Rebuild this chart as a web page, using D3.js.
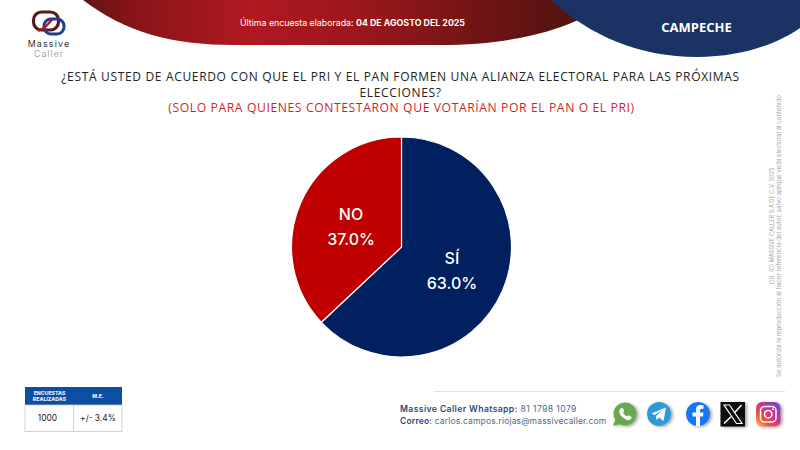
<!DOCTYPE html>
<html><head><meta charset="utf-8">
<script src="https://cdn.jsdelivr.net/npm/d3@7"></script>
<style>html,body{margin:0;padding:0;background:#fff;overflow:hidden}svg{display:block}text{font-family:Inter,"Open Sans",sans-serif}</style>
</head><body><svg id="c" width="800" height="450"></svg>
<script>
const categories=["SÍ","NO"];
const values=[63.0,37.0];
const sliceColors=["#00205f","#c00000"];
const questionLines=["¿ESTÁ USTED DE ACUERDO CON QUE EL PRI Y EL PAN FORMEN UNA ALIANZA ELECTORAL PARA LAS PRÓXIMAS","ELECCIONES?"];
const subtitle="(SOLO PARA QUIENES CONTESTARON QUE VOTARÍAN POR EL PAN O EL PRI)";
const tableHead=[["ENCUESTAS","REALIZADAS"],["M.E."]];
const tableBody=["1000","+/- 3.4%"];

const svg=d3.select("#c");
const defs=svg.append("defs");
const g=defs.append("linearGradient").attr("id","red");
[[0,"#641213"],[.12,"#8c1519"],[.33,"#b01820"],[.55,"#9c171c"],[.8,"#701514"],[1,"#4f1411"]].forEach(s=>g.append("stop").attr("offset",s[0]).attr("stop-color",s[1]));
const f=defs.append("filter").attr("id","sh").attr("x","-30%").attr("y","-30%").attr("width","170%").attr("height","170%");
f.append("feDropShadow").attr("dx",2).attr("dy",1).attr("stdDeviation",1.5).attr("flood-color","#000").attr("flood-opacity",.35);
const ig=defs.append("linearGradient").attr("id","ig").attr("x1",0).attr("y1",1).attr("x2",1).attr("y2",0);
[[0,"#fdc04a"],[.3,"#f0503a"],[.6,"#c92f9c"],[1,"#5a4fd0"]].forEach(s=>ig.append("stop").attr("offset",s[0]).attr("stop-color",s[1]));

// header
svg.append("path").attr("d","M83,0 C125,32 170,45 235,45 L440,45 C500,45 545,35 578,20 L560,0 Z").attr("fill","url(#red)");
svg.append("path").attr("d","M551,0 C590,36 640,57 697,57 C745,57 780,42 800,28 L800,0 Z").attr("fill","#1b3264");
svg.append("text").attr("x",352.5).attr("y",25.5).attr("text-anchor","middle").attr("fill","#fff").attr("font-size",8.8)
 .html('Última encuesta elaborada: <tspan font-weight="700">04 DE AGOSTO DEL 2025</tspan>');
svg.append("text").attr("x",696.5).attr("y",32).attr("text-anchor","middle").attr("fill","#fff").attr("font-size",13).attr("font-weight",700).style("font-family","'Open Sans'").text("CAMPECHE");

// logo
const logo=svg.append("g");
logo.append("rect").attr("x",33.5).attr("y",12).attr("width",25).attr("height",18).attr("rx",8).attr("fill","none").attr("stroke","#5a1a1a").attr("stroke-width",3.2);
logo.append("rect").attr("x",44).attr("y",19).attr("width",20).attr("height",15).attr("rx",7).attr("fill","none").attr("stroke","#1b3f8a").attr("stroke-width",3);
logo.append("path").attr("d","M38,31 L44,28 L52,20").attr("fill","none").attr("stroke","#b01820").attr("stroke-width",2.4);
svg.append("text").attr("x",49).attr("y",47).attr("text-anchor","middle").attr("font-size",8.8).attr("fill","#333").attr("letter-spacing",1.2).text("Massive");
svg.append("text").attr("x",49).attr("y",57).attr("text-anchor","middle").attr("font-size",8.8).attr("fill","#8a8a8a").attr("letter-spacing",1.1).attr("font-weight",300).text("Caller");

// question
questionLines.forEach((t,i)=>svg.append("text").attr("x",400.5).attr("y",81+i*15.6).attr("text-anchor","middle").attr("font-size",12).attr("fill","#222").style("font-family","'Open Sans'").attr("letter-spacing",.67).text(t));
svg.append("text").attr("x",401.5).attr("y",112).attr("text-anchor","middle").attr("font-size",12.2).attr("fill","#d01f26").style("font-family","'Open Sans'").attr("letter-spacing",.58).text(subtitle);

// pie
const cx=401.5,cy=247,R=110;
const pie=d3.pie().sort(null).value(d=>d)(values);
const arc=d3.arc().innerRadius(0).outerRadius(R);
const pg=svg.append("g").attr("transform",`translate(${cx},${cy})`);
pg.selectAll("path").data(pie).join("path").attr("d",arc).attr("fill",(d,i)=>sliceColors[i]).attr("stroke","#fff").attr("stroke-width",1.2);
const lab=d3.arc().innerRadius(R*.5).outerRadius(R*.5);
pie.forEach((d,i)=>{const [x,y]=lab.centroid(d);
 const t=pg.append("text").attr("text-anchor","middle").attr("fill","#fff").attr("font-size",16).attr("font-weight",500);
 t.append("tspan").attr("x",x).attr("y",y-5).text(categories[i]);
 t.append("tspan").attr("x",x).attr("y",y+20).text(d3.format(".1f")(d.data)+"%");
});

// side notes
const side=(x,y,s,t,fill)=>svg.append("text").attr("transform",`translate(${x},${y}) rotate(-90)`).attr("text-anchor","middle").attr("font-size",s).attr("fill",fill).text(t);
side(773.5,226,5.6,"D.R. (C) MASSIVE CALLER S.A DE C.V. 2025","#a6a6a6");
side(780.5,236,6.1,"Se autoriza la reproducción al hacer referencia del autor, salvo aplique veda electoral al contenido","#a6a6a6");

// table
svg.append("rect").attr("x",25).attr("y",387).attr("width",97).attr("height",18).attr("fill","#0b4ea2");
svg.append("rect").attr("x",25).attr("y",405).attr("width",97).attr("height",26.5).attr("fill","#fff").attr("stroke","#c8c8c8").attr("stroke-width",.8);
svg.append("line").attr("x1",73.5).attr("x2",73.5).attr("y1",405).attr("y2",431.5).attr("stroke","#c8c8c8").attr("stroke-width",.8);
tableHead[0].forEach((t,i)=>svg.append("text").attr("x",49.5).attr("y",394.5+i*6.5).attr("text-anchor","middle").attr("font-size",5.2).attr("font-weight",800).attr("fill","#e8eef8").text(t));
svg.append("text").attr("x",98).attr("y",398).attr("text-anchor","middle").attr("font-size",5.2).attr("font-weight",800).attr("fill","#e8eef8").text(tableHead[1][0]);
svg.append("text").attr("x",47.5).attr("y",421).attr("text-anchor","middle").attr("font-size",8.4).attr("fill","#222").text(tableBody[0]);
svg.append("text").attr("x",98).attr("y",421).attr("text-anchor","middle").attr("font-size",8.4).attr("fill","#222").text(tableBody[1]);

// footer
svg.append("line").attr("x1",434).attr("x2",785).attr("y1",391.5).attr("y2",391.5).attr("stroke","#e2e2e2");
const l1=svg.append("text").attr("x",400).attr("y",412).attr("font-size",8.6).attr("fill","#1f4a7d").attr("letter-spacing",.4);
l1.html('<tspan font-weight="600">Massive Caller Whatsapp:</tspan> <tspan fill="#4a6a90">81 1798 1079</tspan>');
const l2=svg.append("text").attr("x",400).attr("y",424).attr("font-size",8.5).attr("fill","#1f4a7d").attr("letter-spacing",.16);
l2.html('<tspan font-weight="600">Correo:</tspan> <tspan fill="#4a6a90">carlos.campos.riojas@massivecaller.com</tspan>');

// icons
const ic=svg.append("g");
const wa=ic.append("g").attr("filter","url(#sh)");
wa.append("circle").attr("cx",625).attr("cy",414).attr("r",11.5).attr("fill","#6aa84f");
wa.append("path").attr("d","M615,420 L613,426 L620,424 Z").attr("fill","#6aa84f");
ic.append("path").attr("d","M620.5,408.5 q1.5,-1.5 2.5,0 l1,2 q.3,1 -1,2 q1,2.5 4,4 q1,-1.3 2,-1 l2,1 q1.5,1 0,2.5 q-2,2 -5,.5 q-5,-2.5 -6.5,-6.5 q-.8,-2.5 1,-4.5Z").attr("fill","#fff");
ic.append("circle").attr("cx",659).attr("cy",414).attr("r",12).attr("fill","#2f9bd6").attr("filter","url(#sh)");
ic.append("path").attr("d","M651.5,413.5 L666,407.5 L663.5,421 L659,417.5 L656.5,420 L656,416 L663,410 L654.5,415 Z").attr("fill","#fff");
ic.append("circle").attr("cx",698).attr("cy",414).attr("r",12).attr("fill","#1877f2").attr("filter","url(#sh)");
ic.append("path").attr("d","M696,426 L696,416.5 L692.5,416.5 L692.5,412.5 L696,412.5 L696,409.5 Q696,405 700.5,405 L703.5,405.3 L703.5,408.8 L701.5,408.8 Q700,408.8 700,410.5 L700,412.5 L703.5,412.5 L703,416.5 L700,416.5 L700,426 Z").attr("fill","#fff");
ic.append("rect").attr("x",720.5).attr("y",402).attr("width",24.5).attr("height",24.5).attr("fill","#0a0a0a").attr("filter","url(#sh)");
ic.append("path").attr("d","M724,405 L729.5,405 L742,423.5 L736.5,423.5 Z").attr("fill","#0a0a0a").attr("stroke","#fff").attr("stroke-width",1.2);
ic.append("path").attr("d","M741.5,405 L734.5,412.8 M731,416.8 L724,423.5").attr("stroke","#fff").attr("stroke-width",1.5);
ic.append("rect").attr("x",756).attr("y",402).attr("width",24.5).attr("height",24.5).attr("rx",6).attr("fill","url(#ig)").attr("filter","url(#sh)");
ic.append("rect").attr("x",760.5).attr("y",406.5).attr("width",15.5).attr("height",15.5).attr("rx",4).attr("fill","none").attr("stroke","#fff").attr("stroke-width",1.5);
ic.append("circle").attr("cx",768.2).attr("cy",414.2).attr("r",3.7).attr("fill","none").attr("stroke","#fff").attr("stroke-width",1.5);
ic.append("circle").attr("cx",773).attr("cy",409.3).attr("r",1).attr("fill","#fff");
</script></body></html>
